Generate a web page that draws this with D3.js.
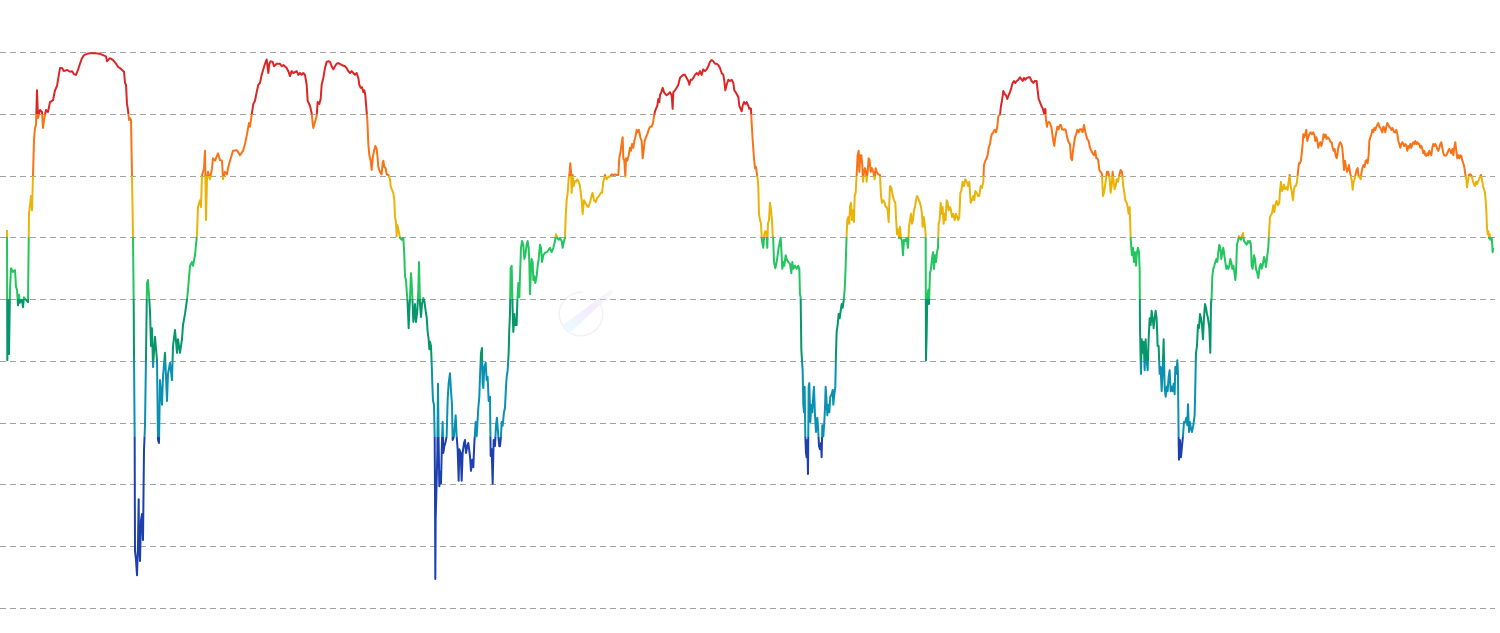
<!DOCTYPE html>
<html>
<head>
<meta charset="utf-8">
<script src="https://cdn.jsdelivr.net/npm/d3@7"></script>
<style>
  html, body { margin: 0; padding: 0; background: #ffffff; }
  svg { display: block; }
</style>
</head>
<body>
<svg id="chart" width="1500" height="633"></svg>
<script>
// ---- DATA: [day index, indicator value] ----
const segment1 = [
[0,61.2],[1,40.1],[3,49.9],[6,41.1],[9,51.5],[12,55.0],[18,54.4],[24,54.7],[27,52.0],[30,51.5],[33,49.0],[36,50.7],[39,49.4],[45,49.9],[48,48.7],[51,50.3],[57,49.9],[63,49.5],
[66,63.9],[69,65.2],[72,66.7],[75,64.4],[78,70.1],[81,75.8],[84,77.7],[87,78.2],[90,83.8],[93,79.3],[99,80.6],[105,80.3],[108,77.7],[111,79.0],[117,80.6],[123,80.3],[129,81.9],
[138,82.2],[144,83.8],[150,84.5],[153,85.5],[159,87.4],[165,87.4],[171,86.9],[180,87.1],[189,86.8],[195,86.9],[201,86.4],[207,86.3],[213,87.1],[219,88.1],[225,89.0],[231,89.5],
[240,89.7],[249,89.8],[264,89.8],[279,89.7],[288,89.5],[297,89.3],[300,88.5],[309,89.0],[318,88.7],[327,88.1],[333,87.6],[339,87.4],[345,87.1],[351,86.8],[354,85.0],[357,84.7],
[360,81.6],[363,80.6],[366,79.0],[369,79.3],[372,79.0],[375,70.1],[378,60.1],[380,49.9],[381,41.3],[383,27.7],[384,9.2],[387,7.8],[390,5.3],[393,10.2],[395,17.6],[396,11.0],
[399,7.6],[402,14.2],[405,15.2],[408,11.0],[411,25.6],[414,29.5],[417,40.8],[420,52.6],[423,53.1],[429,48.1],[432,42.4],[435,45.3],[438,39.0],[444,43.9],[450,40.1],[453,27.2],
[456,26.7],[459,36.9],[465,32.9],[468,37.4],[474,41.3],[480,33.5],[483,37.9],[489,39.7],[495,36.9],[498,42.4],[504,45.0],[510,41.3],[513,43.5],[519,41.3],[525,43.5],[528,45.8],
[534,47.6],[540,49.9],[543,51.5],[549,55.4],[555,56.0],[558,55.4],[564,57.1],[570,60.5],[573,64.9],[579,66.0],[582,64.9],[585,70.1],[588,70.6],[591,71.2],[594,74.0],[597,62.8],
[600,69.4],[603,70.6],[609,69.4],[615,71.2],[618,72.8],[624,72.4],[630,73.2],[633,73.6],[639,72.5],[645,72.4],[648,69.4],[654,70.6],[660,70.2],[663,71.2],[669,72.4],[678,74.0],
[690,74.1],[699,73.3],[708,74.0],[714,75.1],[720,76.7],[726,78.5]
];
const segment2 = [
[729,77.9],[734,79.8],[739,81.6],[744,82.1],[749,83.5],[754,84.7],[759,85.0],[764,86.3],[769,87.2],[774,88.1],[779,88.8],[784,86.6],[787,88.1],[791,88.5],[797,88.4],[801,87.7],
[809,88.1],[819,88.1],[824,87.7],[829,87.9],[839,87.4],[844,86.9],[849,86.1],[854,86.9],[859,86.6],[869,86.9],[874,86.3],[879,86.6],[884,86.3],[889,86.6],[894,86.3],[899,84.7],
[902,82.1],[909,81.3],[914,80.1],[917,78.5],[919,77.7],[924,78.7],[929,79.6],[932,81.9],[937,81.6],[941,82.4],[944,84.7],[949,85.8],[954,87.4],[959,88.4],[964,88.5],[969,88.4],
[974,87.7],[979,87.2],[984,87.7],[989,88.1],[994,88.2],[1004,87.9],[1014,87.7],[1019,87.4],[1024,86.9],[1029,86.6],[1034,86.9],[1039,86.6],[1044,86.3],[1049,86.6],[1054,85.8],
[1057,84.7],[1061,84.2],[1065,84.3],[1069,83.5],[1072,83.8],[1075,83.0],[1077,81.6],[1081,79.0],[1084,75.1],[1087,73.3],[1091,72.4],[1094,70.9],[1097,72.8],[1101,74.0],[1105,74.8],
[1109,74.3],[1112,72.8],[1114,71.4],[1119,70.6],[1124,70.2],[1127,72.0],[1129,72.4],[1132,71.4],[1136,71.2],[1139,70.2],[1144,70.1],[1149,69.4],[1151,68.3],[1154,67.8],[1159,67.2],
[1162,66.0],[1164,63.3],[1167,62.5],[1169,60.2],[1171,62.0],[1174,61.3],[1177,60.5],[1179,59.9],[1184,59.6],[1189,59.9],[1192,57.1],[1194,53.7],[1197,53.1],[1199,51.5],[1202,49.2],
[1205,45.3],[1207,48.1],[1209,50.2],[1212,54.2],[1214,52.6],[1217,49.2],[1219,46.3],[1222,47.4],[1224,49.2],[1227,46.3],[1231,48.1],[1234,51.5],[1236,56.0],[1239,49.2],[1242,47.1],
[1245,49.2],[1249,50.2],[1252,49.7],[1256,48.1],[1259,47.1],[1262,44.7],[1265,43.5],[1267,41.9],[1269,43.1],[1272,42.4],[1274,39.7],[1276,36.3],[1278,33.5],[1281,32.9],[1283,27.8],
[1284,18.8],[1285,4.7],[1286,14.4],[1288,18.3],[1291,25.1],[1293,36.3],[1295,26.7],[1297,19.7],[1300,22.0],[1302,20.2],[1305,27.2],[1307,30.1],[1309,25.1],[1312,26.2],[1315,26.7],
[1319,27.8],[1322,33.7],[1325,36.4],[1329,38.0],[1332,35.1],[1335,32.9],[1337,27.2],[1341,27.8],[1346,31.2],[1349,27.8],[1352,25.7],[1355,20.6],[1357,25.7],[1361,25.1],[1364,20.6],
[1367,25.1],[1371,26.7],[1374,27.2],[1377,25.1],[1381,26.2],[1384,26.7],[1389,24.6],[1392,22.2],[1396,24.0],[1399,22.8],[1402,26.7],[1406,30.1],[1409,27.8],[1414,32.4],[1417,34.2],
[1419,37.4],[1422,41.3],[1425,42.1],[1427,36.3],[1429,35.6],[1432,39.0],[1436,39.7],[1439,36.9],[1442,37.4],[1445,33.5],[1449,34.2],[1451,24.6],[1454,25.7],[1457,20.1],[1460,27.2],
[1464,26.2],[1467,29.6],[1470,30.8],[1474,27.8],[1477,26.2]
];
const segment3 = [
[1479,26.2],[1482,27.8],[1484,30.1],[1487,29.5],[1491,31.7],[1494,32.4],[1497,35.8],[1499,37.4],[1502,38.5],[1505,41.3],[1507,45.3],[1509,47.6],[1511,55.0],[1514,55.4],[1517,48.1],
[1519,44.7],[1522,47.6],[1525,45.8],[1529,45.8],[1531,49.7],[1534,52.6],[1537,50.3],[1539,53.7],[1542,58.3],[1545,59.4],[1549,58.8],[1552,56.5],[1555,57.1],[1559,58.8],[1562,59.4],
[1565,58.3],[1567,56.0],[1569,50.8],[1572,54.9],[1574,56.5],[1577,56.0],[1579,53.1],[1582,53.7],[1585,52.6],[1589,53.7],[1592,55.4],[1595,56.5],[1599,58.8],[1602,58.3],[1605,56.0],
[1609,57.1],[1614,57.5],[1619,57.6],[1624,57.9],[1629,58.3],[1634,57.6],[1639,58.3],[1644,59.4],[1647,60.5],[1651,59.9],[1655,59.6],[1659,59.9],[1664,59.4],[1667,58.3],[1671,59.4],
[1674,59.9],[1676,63.3],[1679,66.0],[1682,67.2],[1685,69.4],[1688,70.6],[1690,72.0],[1692,70.6],[1694,67.2],[1697,70.1],[1700,68.3],[1703,69.1],[1707,69.0],[1711,69.4],[1715,69.0],
[1719,68.3],[1724,66.0],[1727,63.8],[1731,66.0],[1735,65.6],[1739,65.2],[1744,64.9],[1749,65.6],[1754,66.8],[1757,67.2],[1761,66.0],[1766,65.7],[1771,66.4],[1776,66.7],[1781,67.2],
[1785,67.2],[1789,69.0],[1794,70.1],[1799,69.4],[1804,69.8],[1809,69.8],[1814,70.2],[1819,70.1],[1824,70.2],[1829,70.1],[1834,70.1],[1837,72.8],[1841,74.0],[1845,75.6],[1847,76.2],
[1849,72.8],[1852,72.4],[1855,69.8],[1857,72.8],[1861,72.4],[1865,73.3],[1869,74.5],[1872,74.0],[1875,75.1],[1879,74.5],[1882,75.6],[1885,76.2],[1889,77.4],[1892,77.0],[1896,77.4],
[1900,76.2],[1904,75.6],[1907,72.8],[1910,74.0],[1913,75.6],[1917,76.2],[1921,76.7],[1925,77.4],[1929,77.9],[1934,77.9],[1938,78.5],[1941,79.6],[1944,80.4],[1947,80.8],[1951,81.3],
[1954,82.4],[1957,81.9],[1959,83.0],[1963,83.5],[1967,84.2],[1971,83.5],[1975,83.2],[1979,83.0],[1984,83.2],[1989,83.5],[1994,83.0],[1997,80.8],[1999,83.5],[2004,83.8],[2009,84.2],
[2014,84.7],[2019,85.8],[2024,86.1],[2029,86.3],[2034,86.3],[2039,85.8],[2044,85.3],[2047,84.7],[2051,85.5],[2055,85.5],[2059,85.8],[2064,86.3],[2069,86.6],[2074,86.3],[2079,86.9],
[2084,86.3],[2089,87.2],[2094,86.9],[2099,87.2],[2104,87.7],[2109,88.4],[2114,88.7],[2119,88.5],[2124,88.1],[2129,88.1],[2134,87.9],[2139,87.4],[2144,86.6],[2149,86.3],[2152,85.3],
[2155,83.8],[2159,84.7],[2164,85.5],[2169,85.3],[2174,85.5],[2179,85.0],[2182,83.8],[2186,83.5],[2189,83.2],[2194,82.7],[2197,81.3],[2201,80.8],[2204,80.4],[2207,81.3],[2211,81.9],
[2215,81.6],[2219,81.9],[2224,81.3],[2227,80.8]
];
const segment4 = [
[2229,80.9],[2232,80.8],[2234,78.5],[2237,75.8],[2241,72.8],[2244,71.2],[2247,71.4],[2249,70.6],[2252,69.4],[2254,68.3],[2256,63.8],[2259,62.8],[2262,62.2],[2265,59.4],[2269,58.3],
[2272,60.5],[2275,61.0],[2278,60.9],[2281,58.3],[2283,62.2],[2286,62.8],[2289,65.6],[2292,64.4],[2295,62.8],[2297,60.5],[2299,59.4],[2301,56.0],[2305,55.0],[2309,56.0],[2312,57.1],
[2315,58.3],[2319,59.4],[2321,59.9],[2324,57.1],[2326,54.9],[2329,56.0],[2332,55.4],[2336,57.1],[2339,56.5],[2344,56.0],[2349,55.7],[2353,54.2],[2356,56.0],[2359,54.9],[2364,55.4],
[2369,54.9],[2374,55.4],[2377,54.9],[2379,50.8],[2381,50.3],[2383,41.9],[2385,40.1],[2387,38.5],[2389,32.9],[2391,31.7],[2393,35.8],[2395,27.8],[2397,25.1],[2399,24.4],[2401,27.2],
[2403,21.7],[2405,35.8],[2407,36.4],[2410,30.1],[2413,32.9],[2416,31.7],[2419,34.6],[2421,35.8],[2424,31.2],[2427,28.5],[2431,30.8],[2434,28.5],[2436,26.2],[2439,25.7],[2442,26.7],
[2444,24.4],[2446,29.6],[2449,27.8],[2452,30.1],[2454,32.4],[2456,35.8],[2458,34.2],[2461,31.2],[2464,32.9],[2467,31.7],[2470,34.2],[2474,34.6],[2477,35.3],[2479,32.9],[2482,34.6],
[2485,35.8],[2487,41.3],[2489,44.7],[2492,45.8],[2495,47.6],[2498,46.9],[2501,48.1],[2504,49.2],[2507,48.6],[2510,49.7],[2513,51.5],[2515,53.7],[2517,57.1],[2519,60.5],[2521,62.8],
[2524,63.3],[2527,62.2],[2529,64.9],[2532,65.6],[2535,62.8],[2538,64.4],[2541,62.5],[2543,66.7],[2546,67.2],[2549,70.1],[2552,73.3],[2555,74.0],[2557,70.6],[2560,73.3],[2563,73.3],
[2566,71.7],[2568,69.0],[2571,70.6],[2574,71.2],[2577,70.6],[2579,69.0],[2582,70.6],[2585,72.8],[2588,72.5],[2591,70.6],[2595,71.2],[2599,70.6],[2603,69.4],[2606,71.2],[2609,70.6],
[2614,70.2],[2619,70.1],[2622,66.7],[2625,65.6],[2629,66.0],[2633,65.6],[2636,64.9],[2639,64.9],[2642,64.4],[2645,62.5],[2647,65.6],[2649,68.3],[2653,68.0],[2657,66.8],[2661,66.0],
[2665,65.6],[2667,63.3],[2670,60.5],[2673,61.3],[2676,59.9],[2679,61.7],[2682,59.9],[2685,59.4],[2688,57.1],[2691,59.6],[2695,59.4],[2699,59.9],[2703,58.3],[2706,61.7],[2709,62.8],
[2712,63.8],[2715,62.2],[2718,62.8],[2721,64.4],[2724,64.9],[2727,66.0],[2730,66.7],[2733,66.4],[2736,66.0],[2739,65.6],[2742,64.9],[2745,63.8],[2747,61.7],[2750,63.3],[2753,62.2],
[2756,60.5],[2757,40.1],[2759,44.2],[2761,50.3],[2764,51.5],[2766,49.2],[2769,54.2],[2772,54.9],[2775,56.5],[2778,57.6],[2781,54.9],[2784,57.1],[2787,56.0],[2790,57.6],[2793,58.3],
[2795,62.2],[2798,62.8],[2801,65.6],[2804,63.8],[2807,64.9],[2810,62.2],[2813,63.8],[2816,62.8],[2819,66.0],[2822,65.6],[2825,64.4],[2829,64.9],[2832,64.4],[2835,63.3],[2839,63.8],
[2843,62.8],[2847,63.8],[2850,63.3],[2854,62.8],[2857,63.3],[2860,67.2],[2863,67.5],[2867,69.0],[2871,68.3],[2875,69.4],[2879,69.0],[2884,68.3],[2887,69.0],[2891,65.6],[2895,66.0],
[2899,66.7],[2902,66.0],[2905,67.5],[2909,67.2],[2913,66.7],[2917,66.7],[2921,68.3],[2925,68.0],[2929,69.0],[2931,71.7],[2935,72.4],[2939,72.8],[2942,73.3],[2945,74.5],[2949,75.1],
[2952,76.2],[2955,76.7],[2959,77.0],[2963,77.4],[2967,77.0],[2971,77.9],[2974,79.6],[2977,79.8]
];
const segment5 = [
[2979,79.8],[2982,81.3],[2985,82.1],[2989,83.7],[2993,83.2],[2997,83.0],[3001,82.4],[3005,83.0],[3009,83.5],[3013,84.2],[3017,85.0],[3021,85.3],[3025,85.0],[3029,85.3],[3034,85.5],
[3039,85.9],[3043,85.6],[3047,85.3],[3051,85.8],[3055,85.5],[3059,85.8],[3064,85.9],[3069,85.9],[3074,85.3],[3079,85.0],[3084,85.3],[3089,85.3],[3092,83.8],[3095,82.4],[3099,81.9],
[3103,81.3],[3107,80.9],[3111,80.1],[3115,80.8],[3117,79.0],[3120,77.9],[3122,78.5],[3125,78.7],[3129,78.5],[3133,77.9],[3136,76.7],[3139,75.6],[3142,74.8],[3145,76.2],[3148,77.0],
[3151,77.9],[3155,77.5],[3159,78.2],[3162,78.2],[3165,77.5],[3169,77.4],[3173,77.5],[3176,77.4],[3179,76.6],[3182,75.9],[3185,75.4],[3189,75.1],[3192,72.8],[3195,72.5],[3198,74.0],
[3201,75.1],[3204,76.2],[3207,76.6],[3211,77.4],[3215,77.0],[3219,77.5],[3223,77.5],[3227,77.0],[3231,78.2],[3234,77.4],[3237,76.6],[3241,75.9],[3245,75.6],[3249,74.5],[3253,74.0],
[3257,73.6],[3261,73.3],[3265,74.0],[3268,72.8],[3271,72.8],[3274,72.4],[3277,70.9],[3281,70.6],[3285,70.2],[3288,66.7],[3291,67.2],[3294,68.3],[3297,69.4],[3300,70.6],[3304,70.6],
[3308,69.4],[3311,67.2],[3314,68.3],[3317,70.6],[3320,69.0],[3323,67.8],[3326,68.3],[3329,69.4],[3333,69.0],[3337,70.1],[3341,70.9],[3345,70.6],[3349,68.3],[3352,67.2],[3355,66.0],
[3359,65.6],[3362,64.9],[3365,63.8],[3368,64.9],[3370,62.0],[3371,59.9],[3373,58.3],[3375,57.1],[3378,58.3],[3381,56.0],[3384,57.6],[3387,55.4],[3390,57.6],[3393,58.3],[3396,57.6],
[3398,54.9],[3399,45.8],[3401,40.1],[3402,37.9],[3404,43.5],[3407,41.3],[3410,43.1],[3413,38.5],[3416,43.5],[3419,40.1],[3422,38.5],[3425,43.5],[3428,46.9],[3431,45.8],[3434,48.1],
[3437,46.9],[3440,45.3],[3443,46.9],[3446,48.1],[3449,46.9],[3452,42.4],[3455,42.4],[3458,37.9],[3461,39.0],[3464,35.1],[3467,38.5],[3470,43.5],[3473,35.8],[3476,34.2],[3479,35.8],
[3482,35.1],[3485,37.4],[3488,38.5],[3491,35.1],[3494,35.8],[3497,35.1],[3500,36.3],[3503,34.6],[3505,39.0],[3508,37.9],[3511,40.1],[3513,37.9],[3515,27.2],[3516,24.0],[3519,27.2],
[3522,24.4],[3525,26.2],[3528,27.8],[3531,30.1],[3535,30.1],[3538,30.8],[3541,29.6],[3543,33.0],[3546,28.5],[3549,30.1],[3552,29.0],[3555,28.5],[3559,29.6],[3563,31.2],[3565,35.8],
[3567,41.3],[3570,42.4],[3573,45.8],[3576,45.3],[3579,47.6],[3582,46.9],[3585,45.8],[3588,43.5],[3591,46.9],[3594,49.2],[3597,48.6],[3600,47.6],[3603,46.9],[3607,45.3],[3610,41.3],
[3612,49.2],[3614,50.3],[3616,53.7],[3619,54.9],[3622,55.4],[3625,56.0],[3628,56.5],[3631,56.0],[3634,57.6],[3637,58.8],[3640,58.3],[3643,56.5],[3646,57.6],[3649,58.3],[3652,57.1],
[3655,56.0],[3658,54.9],[3661,55.4],[3664,54.9],[3667,55.4],[3670,56.5],[3673,56.0],[3676,54.9],[3679,55.4],[3682,54.5],[3685,53.1],[3687,54.2],[3690,58.8],[3693,59.4],[3696,60.2],
[3699,59.9],[3702,59.6],[3705,60.2],[3708,60.7],[3711,59.4],[3715,59.1],[3719,58.8],[3723,59.4],[3727,59.1]
];
const segment6 = [
[3729,59.4],[3732,58.8],[3734,55.4],[3737,54.9],[3741,57.1],[3744,56.5],[3747,54.9],[3751,54.2],[3754,53.4],[3757,54.9],[3761,55.7],[3764,54.9],[3767,55.4],[3771,56.8],[3774,56.3],
[3777,55.2],[3781,57.1],[3784,58.3],[3786,60.5],[3789,63.3],[3792,63.6],[3795,63.9],[3799,65.2],[3802,64.1],[3805,65.2],[3809,65.9],[3813,65.2],[3817,65.6],[3819,67.5],[3822,69.0],
[3825,67.5],[3828,67.8],[3831,68.5],[3835,67.8],[3839,68.1],[3842,67.7],[3845,69.0],[3848,70.1],[3851,68.3],[3855,67.2],[3858,66.0],[3861,67.8],[3864,68.3],[3867,68.3],[3870,69.0],
[3873,70.6],[3876,72.0],[3879,72.0],[3882,72.4],[3885,74.0],[3887,75.1],[3889,76.7],[3892,76.2],[3895,76.7],[3898,77.4],[3901,75.6],[3904,76.2],[3907,76.7],[3911,77.0],[3915,76.7],
[3919,77.0],[3922,76.6],[3925,75.6],[3928,76.2],[3931,75.6],[3934,74.5],[3937,75.1],[3940,75.4],[3943,74.8],[3947,75.6],[3950,76.7],[3953,76.2],[3956,76.6],[3959,75.9],[3963,76.2],
[3967,75.9],[3971,75.4],[3974,75.4],[3977,74.5],[3980,74.0],[3983,74.3],[3986,73.3],[3989,72.8],[3991,73.3],[3994,74.5],[3997,75.1],[4000,75.4],[4003,75.1],[4006,74.5],[4008,73.3],
[4011,70.9],[4014,72.4],[4017,71.4],[4020,70.6],[4023,70.9],[4026,71.7],[4029,70.6],[4032,69.8],[4035,69.0],[4037,67.7],[4040,69.0],[4043,69.4],[4046,70.2],[4049,70.9],[4052,71.2],
[4055,69.8],[4058,69.8],[4061,69.4],[4064,70.6],[4067,71.4],[4070,71.7],[4073,71.4],[4076,72.4],[4079,72.5],[4082,72.0],[4085,73.3],[4087,75.6],[4090,76.2],[4093,76.6],[4096,77.4],
[4099,77.0],[4102,77.7],[4105,77.4],[4108,77.9],[4111,78.2],[4114,78.5],[4117,77.9],[4120,77.7],[4123,77.4],[4126,77.0],[4129,77.9],[4132,77.7],[4135,77.0],[4138,77.9],[4141,78.5],
[4144,78.2],[4147,77.9],[4150,77.7],[4153,77.4],[4156,77.7],[4159,77.4],[4162,77.0],[4165,77.0],[4168,77.4],[4171,76.7],[4174,75.6],[4177,75.1],[4180,74.5],[4183,75.1],[4186,75.4],
[4189,75.1],[4192,74.8],[4195,75.1],[4198,74.8],[4201,74.0],[4204,74.8],[4207,74.5],[4210,75.1],[4213,74.5],[4216,75.1],[4219,75.4],[4222,75.1],[4225,75.6],[4228,75.1],[4231,75.4],
[4234,75.1],[4237,75.1],[4240,74.5],[4243,74.8],[4246,74.3],[4249,73.6],[4252,74.0],[4255,73.3],[4258,73.2],[4261,73.6],[4264,73.3],[4267,74.0],[4270,73.6],[4273,73.3],[4276,74.5],
[4279,75.1],[4282,74.8],[4285,75.1],[4288,74.8],[4291,74.3],[4294,74.0],[4297,74.5],[4300,75.1],[4303,75.4],[4306,74.5],[4309,73.6],[4312,73.3],[4315,73.2],[4318,73.3],[4321,73.6],
[4324,74.0],[4327,74.3],[4330,74.0],[4333,73.6],[4336,74.3],[4339,73.3],[4342,74.5],[4345,75.4],[4348,74.0],[4351,72.8],[4354,73.3],[4357,72.8],[4360,73.3],[4363,73.2],[4366,72.4],
[4369,72.0],[4372,71.4],[4375,70.2],[4378,69.4],[4380,68.1],[4383,69.1],[4386,70.1],[4389,70.2],[4392,70.1],[4395,69.8],[4398,69.0],[4401,68.6],[4404,68.3],[4407,69.0],[4410,68.6],
[4413,69.0],[4416,69.4],[4419,69.8],[4422,70.1],[4425,69.4],[4428,68.3],[4431,67.8],[4434,67.2],[4436,66.0],[4438,64.4],[4440,61.7],[4442,60.5],[4444,61.0],[4446,59.9],[4448,60.5],
[4450,59.6],[4453,59.9],[4455,59.6],[4457,57.6],[4459,58.3]
];

const gridValues = [0, 10, 20, 30, 40, 50, 60, 70, 80, 90];
const bandEdges  = [27.7, 40, 50, 60, 70, 80];
const bandColors = ["#1e40af", "#0891b2", "#059669", "#22c55e", "#eab308", "#f97316", "#dc2626"];

// ---- CHART ----
const series = [].concat(segment1, segment2, segment3, segment4, segment5, segment6);
const svg = d3.select("#chart");

const x = d3.scaleLinear().domain([0, 4459]).range([7, 1493.3]);
const y = d3.scaleLinear().domain([0, 90]).range([608, 52]);

// grid
const yAxis = d3.axisLeft(y).tickValues(gridValues).tickSize(-1495).tickFormat("");
const gAxis = svg.append("g").attr("transform", "translate(0,0)").call(yAxis);
gAxis.select(".domain").remove();
gAxis.selectAll(".tick line")
  .attr("stroke", "#a3a3a3")
  .attr("stroke-width", 1)
  .attr("stroke-dasharray", "6,4")
  .attr("shape-rendering", "crispEdges");

// faint watermark
const wm = svg.append("g").attr("opacity", 0.35);
wm.append("path")
  .attr("d", d3.arc()({innerRadius: 21, outerRadius: 22.5, startAngle: 0.9, endAngle: 2 * Math.PI + 0.1}))
  .attr("transform", "translate(581,314)")
  .attr("fill", "#d9d9e6");
const wmGrad = svg.append("defs").append("linearGradient")
  .attr("id", "wmg").attr("gradientUnits", "userSpaceOnUse")
  .attr("x1", 567).attr("y1", 328).attr("x2", 614).attr("y2", 290);
wmGrad.append("stop").attr("offset", 0).attr("stop-color", "#c9f0ff");
wmGrad.append("stop").attr("offset", 0.5).attr("stop-color", "#e3c8ff");
wmGrad.append("stop").attr("offset", 1).attr("stop-color", "#eeeeee");
wm.append("path")
  .attr("d", "M565,326 L612,291 L570,330 Z")
  .attr("fill", "url(#wmg)")
  .attr("stroke", "url(#wmg)").attr("stroke-width", 4).attr("stroke-linecap", "round");

// piecewise colour gradient along value axis
const grad = svg.select("defs").append("linearGradient")
  .attr("id", "bands")
  .attr("gradientUnits", "userSpaceOnUse")
  .attr("x1", 0).attr("x2", 0)
  .attr("y1", y(0)).attr("y2", y(90));
const stops = [];
bandColors.forEach((c, i) => {
  const lo = i === 0 ? 0 : bandEdges[i - 1];
  const hi = i === bandColors.length - 1 ? 90 : bandEdges[i];
  stops.push({ o: lo / 90, c });
  stops.push({ o: hi / 90, c });
});
grad.selectAll("stop").data(stops).enter().append("stop")
  .attr("offset", d => d.o)
  .attr("stop-color", d => d.c);

const line = d3.line().x(d => x(d[0])).y(d => y(d[1]));

svg.append("path")
  .datum(series)
  .attr("d", line)
  .attr("fill", "none")
  .attr("stroke", "url(#bands)")
  .attr("stroke-width", 2)
  .attr("stroke-linejoin", "round");
</script>
</body>
</html>
